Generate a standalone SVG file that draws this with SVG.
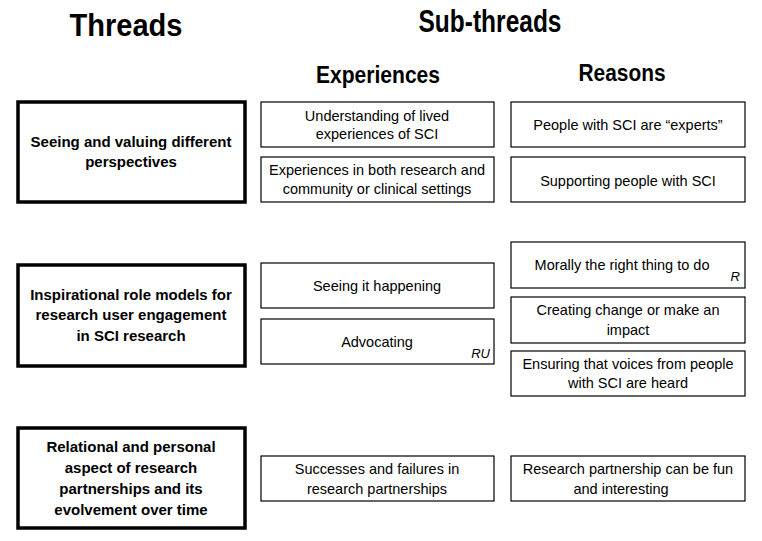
<svg xmlns="http://www.w3.org/2000/svg" width="762" height="541" viewBox="0 0 762 541">
<style>
.thread rect{fill:#fff;stroke:#000;stroke-width:3.5}
.sub rect{fill:#fff;stroke:#000;stroke-width:1.2}
text{font-family:"Liberation Sans",Arial,sans-serif;fill:#000;text-anchor:middle}
.h1{font-size:32px;font-weight:bold}
.h2{font-size:23px;font-weight:bold}
.t{font-size:15px;font-weight:bold}
.s{font-size:14.5px}
.tag{font-size:13px;font-style:italic;text-anchor:end}
</style>
<rect width="762" height="541" fill="#fff"/>
<g id="headers">
<text class="h1" x="126" y="36" textLength="113" lengthAdjust="spacingAndGlyphs">Threads</text>
<text class="h1" x="490" y="32" textLength="143" lengthAdjust="spacingAndGlyphs">Sub-threads</text>
<text class="h2" x="378" y="83" textLength="124" lengthAdjust="spacingAndGlyphs">Experiences</text>
<text class="h2" x="622" y="81" textLength="87" lengthAdjust="spacingAndGlyphs">Reasons</text>
</g>
<g id="thread1" class="thread"><rect x="18" y="102" width="227" height="100"/>
<text class="t" x="131" y="147">Seeing and valuing different</text><text class="t" x="131" y="167">perspectives</text></g>
<g id="thread2" class="thread"><rect x="18" y="265" width="227" height="101"/>
<text class="t" x="131" y="300">Inspirational role models for</text><text class="t" x="131" y="320">research user engagement</text><text class="t" x="131" y="341">in SCI research</text></g>
<g id="thread3" class="thread"><rect x="18" y="428" width="227" height="100"/>
<text class="t" x="131" y="452">Relational and personal</text><text class="t" x="131" y="473">aspect of research</text><text class="t" x="131" y="494">partnerships and its</text><text class="t" x="131" y="515">evolvement over time</text></g>
<g id="exp1" class="sub"><rect x="261" y="102" width="233" height="45"/>
<text class="s" x="377" y="121">Understanding of lived</text><text class="s" x="377" y="139">experiences of SCI</text></g>
<g id="exp2" class="sub"><rect x="261" y="157" width="233" height="45"/>
<text class="s" x="377" y="175">Experiences in both research and</text><text class="s" x="377" y="194">community or clinical settings</text></g>
<g id="exp3" class="sub"><rect x="261" y="263" width="233" height="45"/>
<text class="s" x="377" y="291">Seeing it happening</text></g>
<g id="exp4" class="sub"><rect x="261" y="319" width="233" height="45"/>
<text class="s" x="377" y="347">Advocating</text><text class="tag" x="490" y="358">RU</text></g>
<g id="exp5" class="sub"><rect x="261" y="456" width="233" height="45"/>
<text class="s" x="377" y="474">Successes and failures in</text><text class="s" x="377" y="494">research partnerships</text></g>
<g id="rea1" class="sub"><rect x="511" y="102" width="234" height="45"/>
<text class="s" x="628" y="130">People with SCI are “experts”</text></g>
<g id="rea2" class="sub"><rect x="511" y="157" width="234" height="45"/>
<text class="s" x="628" y="186">Supporting people with SCI</text></g>
<g id="rea3" class="sub"><rect x="511" y="242" width="234" height="46"/>
<text class="s" x="622" y="270">Morally the right thing to do</text><text class="tag" x="740" y="281">R</text></g>
<g id="rea4" class="sub"><rect x="511" y="297" width="234" height="46"/>
<text class="s" x="628" y="315">Creating change or make an</text><text class="s" x="628" y="335">impact</text></g>
<g id="rea5" class="sub"><rect x="511" y="351" width="234" height="45"/>
<text class="s" x="628" y="369">Ensuring that voices from people</text><text class="s" x="628" y="388">with SCI are heard</text></g>
<g id="rea6" class="sub"><rect x="511" y="456" width="234" height="45"/>
<text class="s" x="628" y="474">Research partnership can be fun</text><text class="s" x="621" y="494">and interesting</text></g>
<g id="connectors"/>
</svg>
